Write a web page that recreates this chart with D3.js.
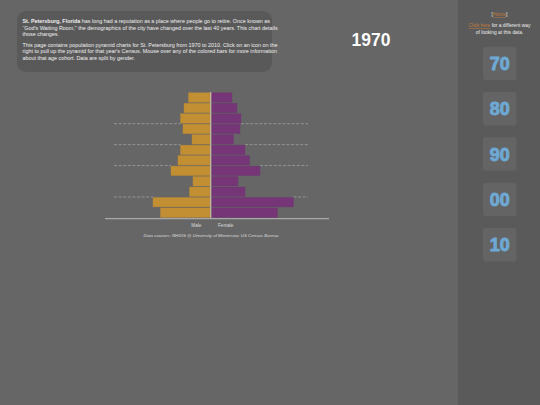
<!DOCTYPE html>
<html><head><meta charset="utf-8">
<script src="https://cdn.jsdelivr.net/npm/d3@7"></script>
<style>
html,body{margin:0;padding:0;background:#666666;}
svg{display:block;font-family:"Liberation Sans",Arial,sans-serif;}
</style></head>
<body>
<svg id="c" width="540" height="405"></svg>
<script>
const ageGroups = ["Under 5","5-9","10-14","15-19","20-24","25-34","35-44","45-54","55-59","60-64","65-74","75+"];
const male   = [5375,6500,7375,6750,4500,7375,8000,9750,4250,5125,14250,12375];
const female = [5125,6375,7375,7125,5500,8375,9500,12125,6625,8375,20500,16500];
const gridAt = ["15-19","25-34","45-54","65-74"];
const years = ["70","80","90","00","10"];
const currentYear = "1970";
const intro1 = [
 ["St. Petersburg, Florida", " has long had a reputation as a place where people go to retire. Once known as"],
 ["", "\u201cGod's Waiting Room,\u201d the demographics of the city have changed over the last 40 years. This chart details"],
 ["", "those changes."]
];
const intro2 = [
 "This page contains population pyramid charts for St. Petersburg from 1970 to 2010. Click on an icon on the",
 "right to pull up the pyramid for that year's Census. Mouse over any of the colored bars for more information",
 "about that age cohort. Data are split by gender."
];

const svg = d3.select("#c");
// sidebar
svg.append("rect").attr("x",458).attr("y",0).attr("width",82).attr("height",405).attr("fill","#5a5a5a");

// intro box
svg.append("rect").attr("x",17).attr("y",11).attr("width",255).attr("height",61).attr("rx",9).attr("fill","#595959");
const tb = svg.append("g").attr("font-size",5.4).attr("fill","#f0f0f0");
intro1.forEach((l,i)=>{
  const t = tb.append("text").attr("x",22.5).attr("y",23.3+i*6.3);
  if(l[0]) t.append("tspan").attr("font-weight","bold").text(l[0]);
  t.append("tspan").text(l[1]);
});
intro2.forEach((l,i)=>{
  tb.append("text").attr("x",22.5).attr("y",46.8+i*6.6).text(l);
});

// year title
svg.append("text").attr("x",371).attr("y",46).attr("text-anchor","middle")
  .attr("font-size",17.5).attr("font-weight","bold").attr("fill","#ffffff").text(currentYear);

// pyramid
const cx = 210.75;
const y = d3.scaleBand().domain(ageGroups).range([92.3,217.9]).paddingInner(0.1).paddingOuter(0.05);
const w = d3.scaleLinear().domain([0,25000]).range([0,100]);

const g = svg.append("g");
const gy = d => y(d)-y.step()*y.paddingInner()/2;
const idx = d => ageGroups.indexOf(d);
const leftEnd = d => cx-0.75-Math.max(w(male[idx(d)]), w(male[idx(d)-1]));
const rightStart = d => cx+0.75+Math.max(w(female[idx(d)]), w(female[idx(d)-1]));
const dash = {stroke:"#a8a8a8", w:0.7, da:"3,1.6"};
g.selectAll("line.gl").data(gridAt).join("line").attr("class","gl")
  .attr("x1",114).attr("x2",leftEnd).attr("y1",gy).attr("y2",gy)
  .attr("stroke",dash.stroke).attr("stroke-width",dash.w).attr("stroke-dasharray",dash.da);
g.selectAll("line.gr").data(gridAt).join("line").attr("class","gr")
  .attr("x1",rightStart).attr("x2",308).attr("y1",gy).attr("y2",gy)
  .attr("stroke",dash.stroke).attr("stroke-width",dash.w).attr("stroke-dasharray",dash.da);

g.selectAll("rect.m").data(ageGroups).join("rect").attr("class","m")
  .attr("x",(d,i)=>cx-0.75-w(male[i])).attr("y",d=>y(d))
  .attr("width",(d,i)=>w(male[i])).attr("height",y.bandwidth())
  .attr("fill","#c38f33").attr("stroke","#b7893a").attr("stroke-width",0.4);
g.selectAll("rect.f").data(ageGroups).join("rect").attr("class","f")
  .attr("x",cx+0.75).attr("y",d=>y(d))
  .attr("width",(d,i)=>w(female[i])).attr("height",y.bandwidth())
  .attr("fill","#763577").attr("stroke","#6e3a70").attr("stroke-width",0.4);
g.append("line").attr("x1",cx).attr("x2",cx).attr("y1",92).attr("y2",218)
  .attr("stroke","#d9cfb4").attr("stroke-width",1);
g.append("line").attr("x1",105).attr("x2",329).attr("y1",218.7).attr("y2",218.7)
  .attr("stroke","#a9a9a9").attr("stroke-width",1.2);

g.append("text").attr("x",196.3).attr("y",226.5).attr("text-anchor","middle").attr("font-size",4.6).attr("fill","#dddddd").text("Male");
g.append("text").attr("x",225.7).attr("y",226.5).attr("text-anchor","middle").attr("font-size",4.6).attr("fill","#dddddd").text("Female");
g.append("text").attr("x",211).attr("y",237.3).attr("text-anchor","middle").attr("font-size",4.4)
  .attr("font-style","italic").attr("fill","#dddddd").text("Data sources: NHGIS @ University of Minnesota; US Census Bureau");

// sidebar content
const sb = svg.append("g").attr("font-size",4.9).attr("fill","#eeeeee");
const h = sb.append("text").attr("x",499.5).attr("y",16).attr("text-anchor","middle");
h.append("tspan").text("[");
h.append("tspan").attr("fill","#c47a3c").attr("text-decoration","underline").text("Home");
h.append("tspan").text("]");
const c1 = sb.append("text").attr("x",499.5).attr("y",27).attr("text-anchor","middle");
c1.append("tspan").attr("fill","#c47a3c").attr("text-decoration","underline").text("Click here");
c1.append("tspan").text(" for a different way");
sb.append("text").attr("x",499.5).attr("y",33.5).attr("text-anchor","middle").text("of looking at this data.");

const ys = d3.scalePoint().domain(years).range([46.7,228]);
const btn = svg.selectAll("g.btn").data(years).join("g").attr("transform",d=>`translate(483,${ys(d)})`);
btn.append("rect").attr("width",33.5).attr("height",33.5).attr("rx",3).attr("fill","#646464");
btn.append("text").attr("x",16.75).attr("y",23.3).attr("text-anchor","middle")
  .attr("font-size",18).attr("font-weight","bold").attr("fill","#6ea9d6")
  .attr("stroke","#6ea9d6").attr("stroke-width",0.9).attr("textLength",20).attr("lengthAdjust","spacingAndGlyphs").text(d=>d);
</script>
</body></html>
